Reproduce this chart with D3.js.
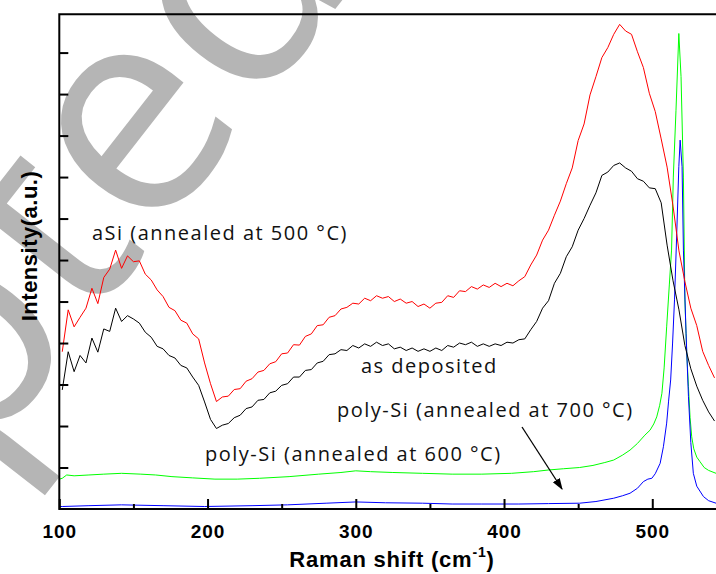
<!DOCTYPE html>
<html>
<head>
<meta charset="utf-8">
<script src="https://cdnjs.cloudflare.com/ajax/libs/d3/7.8.5/d3.min.js"></script>
<style>
  body { margin: 0; background: #fff; }
  svg { display: block; }
</style>
</head>
<body>
<div id="chart"></div>
<script>
// Raman shift samples shared by the two broad spectra (cm-1)
var shiftBroad = d3.range(102, 543, 4);

// aSi (annealed at 500 C), red
var redVals = [3.79, 4.80, 4.39, 4.62, 4.84, 5.32, 4.95, 5.58, 5.78, 6.24, 5.80, 6.10, 5.96, 5.98, 5.66, 5.52,
  5.28, 5.12, 4.86, 4.78, 4.55, 4.48, 4.22, 4.10, 3.52, 3.02, 2.59, 2.70, 2.72, 2.88, 2.90, 3.08,
  3.14, 3.30, 3.34, 3.50, 3.55, 3.74, 3.76, 3.96, 3.95, 4.16, 4.22, 4.42, 4.44, 4.62, 4.66, 4.82,
  4.86, 4.96, 4.94, 5.08, 5.02, 5.14, 5.08, 5.12, 5.00, 5.06, 4.96, 5.00, 4.88, 4.94, 4.84, 4.96,
  4.98, 5.14, 5.10, 5.26, 5.24, 5.36, 5.30, 5.40, 5.34, 5.44, 5.36, 5.44, 5.38, 5.50, 5.60, 5.88,
  6.12, 6.48, 6.72, 7.08, 7.42, 7.84, 8.22, 8.88, 9.28, 9.98, 10.42, 10.88, 11.12, 11.44, 11.68, 11.52,
  11.44, 11.02, 10.64, 10.02, 9.58, 8.92, 8.24, 7.30, 6.22, 5.48, 4.84, 4.42, 3.80, 3.46, 3.16];

// as deposited, black
var blackVals = [2.87, 3.79, 3.31, 3.70, 3.52, 4.12, 3.78, 4.34, 4.28, 4.84, 4.52, 4.66, 4.58, 4.48, 4.26, 4.14,
  3.92, 3.86, 3.70, 3.64, 3.46, 3.40, 3.18, 2.98, 2.58, 2.16, 1.94, 2.02, 2.06, 2.20, 2.26, 2.42,
  2.46, 2.62, 2.64, 2.80, 2.84, 2.98, 3.02, 3.18, 3.18, 3.34, 3.36, 3.52, 3.56, 3.72, 3.74, 3.84,
  3.82, 3.94, 3.88, 3.98, 3.92, 4.02, 3.94, 3.98, 3.86, 3.90, 3.82, 3.88, 3.80, 3.86, 3.80, 3.88,
  3.82, 3.94, 3.90, 4.00, 3.96, 4.02, 3.92, 3.98, 3.92, 3.98, 3.94, 4.02, 4.00, 4.08, 4.10, 4.32,
  4.52, 4.84, 5.02, 5.44, 5.68, 6.08, 6.32, 6.72, 7.00, 7.32, 7.62, 8.04, 8.12, 8.28, 8.34, 8.22,
  8.14, 7.96, 7.90, 7.74, 7.72, 7.38, 6.36, 5.50, 4.80, 3.94, 3.38, 2.96, 2.62, 2.34, 2.12];

// poly-Si (annealed at 700 C), green
var greenShift = [100, 102, 105, 110, 120, 130, 142, 155, 165, 176, 190, 205, 220, 235, 255, 275, 290, 300,
  310, 325, 345, 365, 385, 405, 420, 430, 440, 451, 460, 468, 474, 480, 485, 490, 495, 498.5, 501, 503,
  505, 506.5, 508, 509.7, 511.5, 513, 514.2, 516, 517.9, 519.4, 521, 522, 523.2, 524.4, 525.5, 526.6,
  528, 530, 532.2, 535, 538, 543, 548];
var greenVals = [0.72, 0.74, 0.82, 0.80, 0.82, 0.84, 0.86, 0.84, 0.82, 0.78, 0.75, 0.72, 0.72, 0.74, 0.78, 0.84, 0.88, 0.92,
  0.90, 0.88, 0.86, 0.84, 0.84, 0.86, 0.90, 0.94, 0.97, 1.00, 1.05, 1.12, 1.18, 1.30, 1.42, 1.58, 1.78, 1.90, 2.05, 2.22,
  2.50, 2.79, 3.40, 4.39, 5.40, 6.24, 8.00, 9.61, 11.46, 10.42, 8.00, 5.04, 3.80, 2.95, 2.20, 1.74,
  1.45, 1.25, 1.14, 1.00, 0.93, 0.86, 0.84];

// poly-Si (annealed at 600 C), blue
var blueShift = [100, 102, 120, 142, 170, 198, 230, 254, 280, 300, 320, 345, 365, 385, 410, 430, 451, 462, 474,
  480, 485, 490, 494, 497, 499.7, 502, 505.3, 507.5, 509.7, 511, 512.4, 513.7, 515, 516.5, 517.9, 518.8,
  520.1, 521, 522.8, 524.4, 526, 527.7, 530, 534.5, 538, 543, 548];
var blueVals = [0.06, 0.06, 0.08, 0.10, 0.08, 0.06, 0.08, 0.10, 0.14, 0.17, 0.15, 0.14, 0.12, 0.12, 0.12, 0.13, 0.14, 0.18, 0.26,
  0.32, 0.38, 0.50, 0.66, 0.72, 0.74, 0.85, 1.10, 1.50, 2.07, 2.60, 3.11, 4.00, 5.04, 6.64, 8.25, 8.89,
  8.25, 6.24, 4.23, 2.71, 1.60, 0.86, 0.55, 0.30, 0.20, 0.14, 0.13];

var xTicks = [100, 200, 300, 400, 500];
var xMinor = [150, 250, 350, 450];
var yTicks = [1, 2, 3, 4, 5, 6, 7, 8, 9, 10, 11];

var width = 716,
    height = 574;

var svg = d3.select("#chart")
    .append("svg")
    .attr("width", width)
    .attr("height", height);

var x = d3.scaleLinear().domain([100, 550]).range([59.3, 726.4]);
var y = d3.scaleLinear().domain([0, 11.93]).range([509, 14]);

// watermark behind everything
svg.append("text")
    .attr("transform", "translate(-417,972) rotate(-52)")
    .attr("font-family", "Open Sans")
    .attr("font-size", 295)
    .attr("fill", "#b5b5b5")
    .text("Accepted");

svg.append("clipPath").attr("id", "plot")
    .append("rect").attr("x", 59).attr("y", 14).attr("width", 700).attr("height", 495);

var line = d3.line()
    .x(function (d) { return x(d[0]); })
    .y(function (d) { return y(d[1]); });

var series = [
    { xs: greenShift, ys: greenVals, color: "#00ff00" },
    { xs: blueShift, ys: blueVals, color: "#0000ff" },
    { xs: shiftBroad, ys: blackVals, color: "#000000" },
    { xs: shiftBroad, ys: redVals, color: "#ff0000" }
];

svg.append("g")
    .attr("clip-path", "url(#plot)")
    .selectAll("path")
    .data(series)
    .enter()
    .append("path")
    .attr("d", function (s) { return line(d3.zip(s.xs, s.ys)); })
    .attr("fill", "none")
    .attr("stroke", function (s) { return s.color; })
    .attr("stroke-width", 1);

// axes, ticks pointing inward
var xAxis = svg.append("g")
    .attr("transform", "translate(0,509)")
    .call(d3.axisBottom(x).tickValues(xTicks).tickSize(-10).tickFormat(d3.format("d")).tickPadding(16));
xAxis.append("g")
    .call(d3.axisBottom(x).tickValues(xMinor).tickSize(-5).tickFormat(""));
xAxis.selectAll(".domain").remove();
xAxis.selectAll("line").attr("stroke", "#000").attr("stroke-width", 2);
xAxis.selectAll("text")
    .attr("font-family", "Liberation Sans")
    .attr("font-weight", "bold")
    .attr("font-size", 19)
    .attr("letter-spacing", 1)
    .attr("fill", "#000");

var yAxis = svg.append("g")
    .attr("transform", "translate(59.3,0)")
    .call(d3.axisLeft(y).tickValues(yTicks).tickSize(-9).tickFormat(""));
yAxis.selectAll(".domain").remove();
yAxis.selectAll("line").attr("stroke", "#000").attr("stroke-width", 2);

// frame
svg.append("path")
    .attr("d", "M716,14.3H59.3V509H716")
    .attr("fill", "none")
    .attr("stroke", "#000")
    .attr("stroke-width", 2);

// axis titles
svg.append("text")
    .attr("x", 392).attr("y", 567)
    .attr("text-anchor", "middle")
    .attr("font-family", "Liberation Sans")
    .attr("font-weight", "bold")
    .attr("font-size", 22)
    .attr("letter-spacing", 0.8)
    .html('Raman shift (cm<tspan font-size="14" dy="-10">-1</tspan><tspan dy="10">)</tspan>');

svg.append("text")
    .attr("transform", "translate(37,246) rotate(-90)")
    .attr("text-anchor", "middle")
    .attr("font-family", "Liberation Sans")
    .attr("font-weight", "bold")
    .attr("font-size", 22)
    .attr("letter-spacing", 0.5)
    .text("Intensity(a.u.)");

// curve labels
var labels = [
    { t: "aSi (annealed at 500 °C)", x: 92, y: 240 },
    { t: "as deposited", x: 361, y: 373 },
    { t: "poly-Si (annealed at 700 °C)", x: 337, y: 417 },
    { t: "poly-Si (annealed at 600 °C)", x: 205, y: 461 }
];
svg.append("g").selectAll("text")
    .data(labels)
    .enter()
    .append("text")
    .attr("x", function (d) { return d.x; })
    .attr("y", function (d) { return d.y; })
    .attr("font-family", "Open Sans")
    .attr("font-size", 20)
    .attr("letter-spacing", 1.5)
    .attr("fill", "#111")
    .text(function (d) { return d.t; });

// arrow to the 600 C curve
svg.append("defs").append("marker")
    .attr("id", "head")
    .attr("viewBox", "0 0 10 10")
    .attr("refX", 9).attr("refY", 5)
    .attr("markerWidth", 9).attr("markerHeight", 9)
    .attr("orient", "auto")
    .append("path").attr("d", "M0,1.5L10,5L0,8.5Z").attr("fill", "#000");
svg.append("line")
    .attr("x1", 522).attr("y1", 427)
    .attr("x2", 562).attr("y2", 489)
    .attr("stroke", "#000")
    .attr("stroke-width", 1.3)
    .attr("marker-end", "url(#head)");
</script>
</body>
</html>
